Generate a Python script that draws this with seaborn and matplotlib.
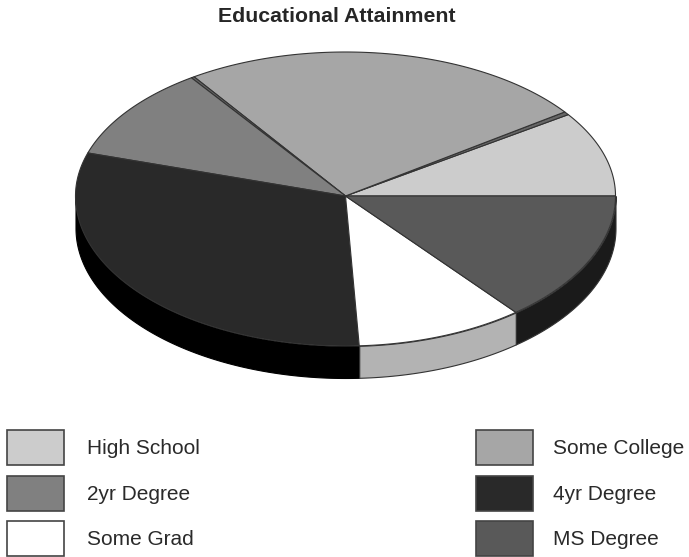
import numpy as np
import matplotlib
matplotlib.use("Agg")
import matplotlib.pyplot as plt
from matplotlib.patches import Patch
import seaborn as sns

# Slice order runs counter-clockwise from 3 o'clock; two hairline slices have no legend entry
categories = ["High School", "(thin a)", "Some College", "(thin b)", "2yr Degree", "4yr Degree", "Some Grad", "MS Degree"]
shares = [9.56, 0.36, 24.56, 0.19, 10.50, 30.64, 10.06, 14.13]
top_colors = ["#cccccc", "#666666", "#a6a6a6", "#666666", "#808080", "#292929", "#ffffff", "#595959"]
side_colors = ["#999999", "#333333", "#7c7c7c", "#333333", "#606060", "#000000", "#b3b3b3", "#1a1a1a"]
left_legend = ["High School", "2yr Degree", "Some Grad"]
right_legend = ["Some College", "4yr Degree", "MS Degree"]
title = "Educational Attainment"

sns.set_theme(style="white", font="Liberation Sans")

W, H = 689, 557
CX, CY, RX, RY_BACK, RY_FRONT, DEPTH = 345.5, 196.0, 270.0, 144.0, 150.0, 32.0
EDGE = "#333333"

fig = plt.figure(figsize=(W / 100, H / 100), dpi=100)
ax = fig.add_axes([0, 0, 1, 1])
depth = DEPTH / RY_FRONT
back = RY_BACK / RY_FRONT


def rim(t):
    s = np.sin(t)
    return np.cos(t), np.where(s > 0, s * back, s)


palette = sns.color_palette(top_colors)
edges = np.concatenate([[0], np.cumsum(shares)]) / np.sum(shares) * 360

# Side wall: only the front half of the rim (180-360 degrees) is visible
for a0, a1, col in zip(edges[:-1], edges[1:], side_colors):
    lo, hi = max(a0, 180), min(a1, 360)
    if hi <= lo:
        continue
    t = np.radians(np.linspace(lo, hi, 120))
    x, y = rim(t)
    ax.fill_between(x, y, y - depth, facecolor=col,
                    edgecolor="#000000" if col == "#000000" else EDGE,
                    linewidth=0.8, zorder=1)

# Top face
for a0, a1, col in zip(edges[:-1], edges[1:], palette):
    t = np.radians(np.linspace(a0, a1, 160))
    x, y = rim(t)
    ax.fill(np.r_[0, x], np.r_[0, y], facecolor=col, edgecolor=EDGE,
            linewidth=0.8, joinstyle="round", zorder=2)

ax.set_xlim(-CX / RX, (W - CX) / RX)
ax.set_ylim(-(H - CY) / RY_FRONT, CY / RY_FRONT)
ax.set_axis_off()

fig.text(336.5 / W, 1 - 16 / H, title, ha="center", va="center",
         fontsize=15.3, fontweight="bold", color="#262626")

color_of = dict(zip(categories, top_colors))
FS_PX = 15 * 100 / 72


def make_legend(names, x_px, pad_px):
    handles = [Patch(facecolor=color_of[c], edgecolor="#444444", linewidth=1.2, label=c) for c in names]
    return ax.legend(handles=handles, loc="upper left",
                     bbox_to_anchor=(x_px / W, 1 - 430 / H), bbox_transform=fig.transFigure,
                     frameon=False, fontsize=15, borderpad=0, borderaxespad=0,
                     handlelength=57 / FS_PX, handleheight=2.21,
                     labelspacing=10.5 / FS_PX, handletextpad=pad_px / FS_PX,
                     labelcolor="#2a2a2a")


leg = make_legend(left_legend, 7, 23)
ax.add_artist(leg)
make_legend(right_legend, 476, 20)

fig.savefig("out.png", dpi=100)
